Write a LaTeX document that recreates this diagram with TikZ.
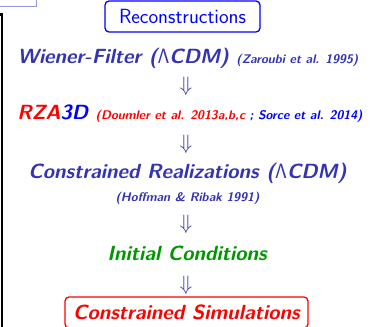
\documentclass[tikz,border=0pt]{standalone}
\usepackage[no-math]{fontspec}
\usepackage{tikz}
\usetikzlibrary{positioning}

\definecolor{struct}{RGB}{51,51,179}
\definecolor{icgreen}{RGB}{0,150,0}
\definecolor{framelilac}{RGB}{150,150,230}
\newcommand{\mainsz}{\fontsize{20.5}{22}\selectfont}
\newcommand{\refsz}{\fontsize{12.5}{14}\selectfont}
\newcommand{\lcdm}{$\mathsf{\Lambda}$CDM}

\tikzset{
  stepline/.style={font=\mainsz\sffamily\bfseries\itshape, inner sep=0pt, anchor=base},
  reftext/.style={font=\refsz\sffamily\bfseries\itshape, inner sep=0pt, anchor=base},
  downarr/.style={font=\fontsize{21}{23}\selectfont, text=struct, inner sep=0pt},
  roundbox/.style={draw, rounded corners=4pt, line width=1.3pt, inner sep=0pt}
}

\begin{document}
\begin{tikzpicture}[x=1pt,y=-1pt]
  \useasboundingbox (0,0) rectangle (382,326);
  \clip (0,0) rectangle (382,326);
  % bits of the neighbouring boxes
  \draw[framelilac,line width=1pt] (-5,7) -- (36,7) -- (36,-5);
  \draw[black,line width=2.6pt] (-5,14.5) -- (1.8,14.5) -- (1.8,340);
  % the chain
  \node[roundbox, draw=blue, text=blue, font=\fontsize{20.5}{22}\selectfont\sffamily,
        minimum width=155, minimum height=31] (rec) at (182.5,16.5) {Reconstructions};
  \node[stepline, text=struct] (wf) at (188,64) {Wiener-Filter (\lcdm) {\refsz(Zaroubi et al. 1995)}};
  \node[downarr] (a1) at (186,86) {$\Downarrow$};
  \node[stepline] (rza) at (190,119) {\textcolor{red}{RZA}\textcolor{blue}{3D} {\refsz\textcolor{red}{(Doumler et al. 2013a,b,c} \textcolor{blue}{; Sorce et al. 2014)}}};
  \node[downarr] (a2) at (186,144) {$\Downarrow$};
  \node[stepline, text=struct] (cr) at (187.5,178) {Constrained Realizations (\lcdm)};
  \node[reftext, text=struct] (hr) at (187.5,201) {(Hoffman \& Ribak 1991)};
  \node[downarr] (a3) at (186,224) {$\Downarrow$};
  \node[stepline, text=icgreen] (ic) at (187,260) {Initial Conditions};
  \node[downarr] (a4) at (186,285) {$\Downarrow$};
  \node[roundbox, draw=red, text=red, font=\mainsz\sffamily\bfseries\itshape,
        minimum width=243, minimum height=31] (cs) at (186.5,312.5) {Constrained Simulations};
\end{tikzpicture}
\end{document}
